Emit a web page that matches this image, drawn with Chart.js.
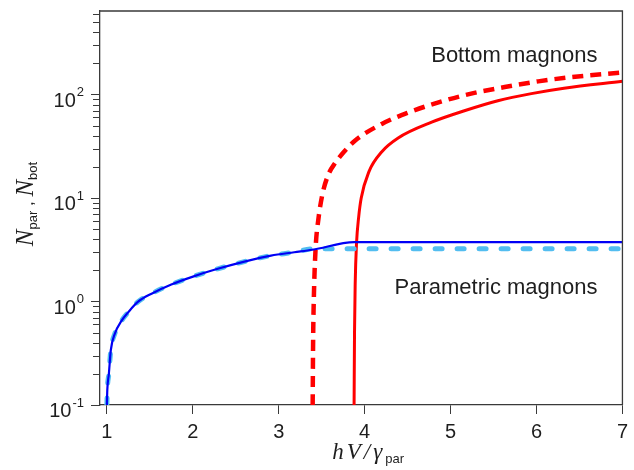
<!DOCTYPE html>
<html>
<head>
<meta charset="utf-8">
<script src="https://cdn.jsdelivr.net/npm/chart.js@4.4.1/dist/chart.umd.min.js"></script>
<style>
  html, body { margin: 0; padding: 0; background: #fff; }
  #wrap { width: 634px; height: 470px; }
</style>
</head>
<body>
<div id="wrap"><canvas id="magnonChart" width="634" height="470"></canvas></div>
<script>
// values (x = hV/gamma_par)
const parX     = [1.0, 1.005, 1.023, 1.046, 1.093, 1.17, 1.25, 1.36, 1.52, 1.75, 2.01, 2.29, 2.60, 2.91, 3.18, 3.39, 3.88, 7.0];
const parY     = [0.1, 0.14, 0.20, 0.34, 0.49, 0.65, 0.79, 0.99, 1.19, 1.46, 1.75, 2.07, 2.43, 2.78, 2.99, 3.16, 3.74, 3.74];

const parDashX = [1.0, 1.005, 1.023, 1.046, 1.093, 1.17, 1.25, 1.36, 1.52, 1.75, 2.01, 2.29, 2.60, 2.91, 3.18, 3.40, 7.0];
const parDashY = [0.1, 0.14, 0.20, 0.34, 0.49, 0.65, 0.79, 0.99, 1.19, 1.46, 1.75, 2.07, 2.43, 2.78, 2.99, 3.23, 3.23];

const botX     = [3.877, 3.882, 3.89, 3.905, 3.93, 3.96, 4.05, 4.20, 4.39, 4.78, 5.17, 5.55, 5.94, 6.32, 7.0];
const botY     = [0.1, 0.5, 1.5, 3.6, 6.5, 10, 18, 28, 38, 54, 70, 87, 102, 115, 134];

const botDashX = [3.395, 3.40, 3.41, 3.43, 3.46, 3.51, 3.58, 3.66, 3.76, 3.89, 4.20, 4.51, 4.86, 5.24, 5.63, 6.02, 6.40, 7.0];
const botDashY = [0.1, 0.4, 1.2, 3.35, 6.1, 11, 17, 22, 28, 36, 52, 67, 84, 102, 118, 134, 147, 163];

const xTicks = [1, 2, 3, 4, 5, 6, 7];
const yMajorTicks = [0.1, 1, 10, 100];
const yMinorTicks = [0.2, 0.3, 0.4, 0.5, 0.6, 0.7, 0.8, 0.9,
                     2, 3, 4, 5, 6, 7, 8, 9,
                     20, 30, 40, 50, 60, 70, 80, 90,
                     200, 300, 400, 500, 600];

const labelBottom = { text: 'Bottom magnons', x: 6.71, y: 205 };
const labelPar = { text: 'Parametric magnons', x: 6.71, y: 1.19 };

const axisColor = '#3a3a3a';
const textColor = '#1e1e1e';
const sansFont = '"Liberation Sans", Arial, sans-serif';
const serifFont = '"Liberation Serif", "Times New Roman", serif';

function pairs(xs, ys) {
  return xs.map((x, i) => ({ x: x, y: ys[i] }));
}

// minor ticks, box, tick labels with exponents, axis titles, annotations
const decorPlugin = {
  id: 'decor',
  afterDraw(chart) {
    const ctx = chart.ctx;
    const area = chart.chartArea;
    const xs = chart.scales.x;
    const ys = chart.scales.y;
    ctx.save();

    ctx.strokeStyle = axisColor;
    ctx.lineWidth = 1.3;
    ctx.beginPath();
    ctx.moveTo(area.left, area.top);
    ctx.lineTo(area.right, area.top);
    ctx.lineTo(area.right, area.bottom);
    ctx.stroke();

    ctx.lineWidth = 1;
    ctx.beginPath();
    yMinorTicks.forEach(v => {
      const py = Math.round(ys.getPixelForValue(v)) + 0.5;
      ctx.moveTo(area.left - 7, py);
      ctx.lineTo(area.left, py);
    });
    ctx.stroke();

    // y tick labels 10^n
    ctx.fillStyle = textColor;
    ctx.textBaseline = 'alphabetic';
    const rightEdge = area.left - 16;
    yMajorTicks.forEach(v => {
      const py = ys.getPixelForValue(v);
      const exp = String(Math.round(Math.log10(v)));
      ctx.font = '13px ' + sansFont;
      const supW = ctx.measureText(exp).width;
      ctx.textAlign = 'left';
      ctx.fillText(exp, rightEdge - supW, py + 1.5);
      ctx.font = '20px ' + sansFont;
      ctx.textAlign = 'right';
      ctx.fillText('10', rightEdge - supW - 1, py + 12);
    });

    // annotations
    ctx.font = '22px ' + sansFont;
    ctx.textAlign = 'right';
    [labelBottom, labelPar].forEach(l => {
      ctx.fillText(l.text, xs.getPixelForValue(l.x), ys.getPixelForValue(l.y));
    });

    // x title: hV/gamma_par
    const xParts = [
      { t: 'hV/γ', font: 'italic 23px ' + serifFont, dy: 0, sp: '3px' },
      { t: 'par', font: '13px ' + sansFont, dy: 4, sp: '0px' }
    ];
    drawParts(ctx, xParts, (area.left + area.right) / 2 + 7, 459);

    // y title: N_par , N_bot (rotated)
    ctx.translate(33, (area.top + area.bottom) / 2 - 4);
    ctx.rotate(-Math.PI / 2);
    const yParts = [
      { t: 'N', font: 'italic 25px ' + serifFont, dy: 0, sp: '0px' },
      { t: 'par', font: '13px ' + sansFont, dy: 4, sp: '0px' },
      { t: ' , ', font: '17px ' + sansFont, dy: 0, sp: '0px' },
      { t: 'N', font: 'italic 25px ' + serifFont, dy: 0, sp: '0px' },
      { t: 'bot', font: '13px ' + sansFont, dy: 4, sp: '0px' }
    ];
    drawParts(ctx, yParts, 0, 0);
    ctx.restore();
  }
};

function drawParts(ctx, parts, cx, baseY) {
  let total = 0;
  parts.forEach(p => {
    ctx.font = p.font;
    ctx.letterSpacing = p.sp;
    p.w = ctx.measureText(p.t).width;
    total += p.w;
  });
  let x = cx - total / 2;
  ctx.textAlign = 'left';
  parts.forEach(p => {
    ctx.font = p.font;
    ctx.letterSpacing = p.sp;
    ctx.fillText(p.t, x, baseY + p.dy);
    x += p.w;
  });
  ctx.letterSpacing = '0px';
}

const ctx = document.getElementById('magnonChart').getContext('2d');

const magnonChart = new Chart(ctx, {
  type: 'line',
  data: {
    datasets: [
      {
        label: 'N_par',
        data: pairs(parX, parY),
        borderColor: '#0000f5',
        borderWidth: 2.2,
        pointRadius: 0,
        cubicInterpolationMode: 'monotone',
        borderJoinStyle: 'round'
      },
      {
        label: 'N_par (dashed)',
        data: pairs(parDashX, parDashY),
        borderColor: '#52bdf0',
        borderWidth: 5,
        borderDash: [7, 15],
        borderCapStyle: 'round',
        pointRadius: 0,
        cubicInterpolationMode: 'monotone'
      },
      {
        label: 'N_bot',
        data: pairs(botX, botY),
        borderColor: '#ff0000',
        borderWidth: 3,
        pointRadius: 0,
        cubicInterpolationMode: 'monotone',
        borderJoinStyle: 'round'
      },
      {
        label: 'N_bot (dashed)',
        data: pairs(botDashX, botDashY),
        borderColor: '#ff0000',
        borderWidth: 4.5,
        borderDash: [11, 7],
        pointRadius: 0,
        cubicInterpolationMode: 'monotone'
      }
    ]
  },
  options: {
    responsive: false,
    animation: false,
    devicePixelRatio: 1,
    layout: { padding: { top: 11, right: 10, left: 0, bottom: 0 } },
    plugins: {
      legend: { display: false },
      tooltip: { enabled: false }
    },
    scales: {
      x: {
        type: 'linear',
        min: 0.92,
        max: 7,
        afterBuildTicks: s => { s.ticks = xTicks.map(v => ({ value: v })); },
        afterFit: s => { s.height = 65; },
        grid: { drawOnChartArea: false, drawTicks: true, tickLength: 9, color: axisColor, tickWidth: 1 },
        border: { display: true, color: axisColor, width: 1.3 },
        ticks: {
          padding: 6,
          color: textColor,
          font: { family: sansFont, size: 20 },
          maxRotation: 0,
          callback: v => String(v)
        }
      },
      y: {
        type: 'logarithmic',
        min: 0.1,
        max: 641,
        afterBuildTicks: s => { s.ticks = yMajorTicks.map(v => ({ value: v })); },
        afterFit: s => { s.width = 100; },
        grid: { drawOnChartArea: false, drawTicks: true, tickLength: 9, color: axisColor, tickWidth: 1 },
        border: { display: true, color: axisColor, width: 1.3 },
        ticks: { display: false }
      }
    }
  },
  plugins: [decorPlugin]
});
</script>
</body>
</html>
